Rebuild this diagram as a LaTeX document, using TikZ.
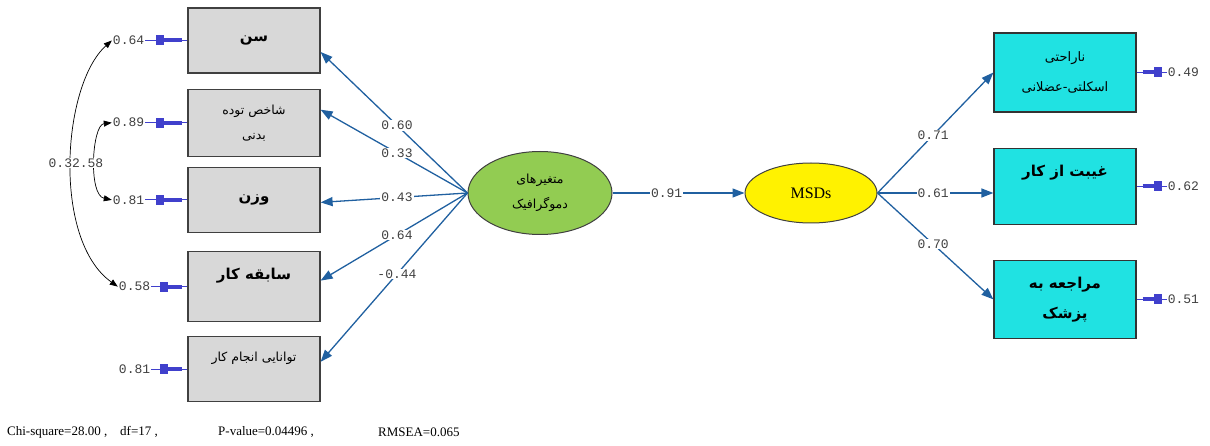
\documentclass[tikz,border=0pt]{standalone}
\usepackage{fontspec}
\setmainfont{Liberation Serif}
\newfontfamily\arabicfont[Script=Arabic]{DejaVu Sans}
\newfontfamily\codefont{Liberation Mono}
\TeXXeTstate=1
\usetikzlibrary{arrows.meta, positioning, calc, shapes.geometric}

\definecolor{boxgray}{RGB}{216,216,216}
\definecolor{boxcyan}{RGB}{32,226,226}
\definecolor{latgreen}{RGB}{146,204,82}
\definecolor{pathblue}{RGB}{32,96,160}
\definecolor{errblue}{RGB}{64,64,204}

\begin{document}
\begin{tikzpicture}[x=1pt, y=-1pt,
    % Styles
    obs box/.style={draw=black!75, line width=1.2pt, fill=boxgray, minimum width=132pt, minimum height=65pt, inner sep=2pt, align=center, font=\arabicfont\bfseries\fontsize{15}{26}\selectfont},
    out box/.style={draw=black!80, line width=1.2pt, fill=boxcyan, minimum width=142pt, minimum height=78pt, inner sep=2pt, align=center, font=\arabicfont\bfseries\fontsize{15}{30}\selectfont},
    plain text/.style={font=\arabicfont\fontsize{12.5}{25}\selectfont},
    latent/.style={ellipse, draw=black!75, line width=1pt, inner sep=0pt, align=center},
    load arrow/.style={draw=pathblue, line width=1.3pt, -{Triangle[length=12pt, width=9pt]}},
    coef/.style={fill=white, inner sep=1pt, pos=0.48, text=black!75, font=\codefont\fontsize{13}{13}\selectfont},
    err label/.style={inner sep=1pt, text=black!75, font=\codefont\fontsize{13}{13}\selectfont},
    err sq/.style={fill=errblue, minimum width=8pt, minimum height=10pt, inner sep=0pt},
    err line/.style={draw=errblue, line width=0.8pt},
    err bar/.style={draw=errblue, line width=4pt},
    cov/.style={draw=black, line width=0.7pt, {Triangle[length=8pt, width=6pt]}-{Triangle[length=8pt, width=6pt]}},
    fit stat/.style={anchor=west, inner sep=0pt, font=\fontsize{13}{15}\selectfont},
]
    \useasboundingbox (0,0) rectangle (1210,446);

    % Indicator boxes on the left, first one anchored
    \node[obs box] (sen) at (254,40.5) {\beginR سن\endR};
    \node[obs box, plain text, minimum height=67pt, below=15pt of sen] (bmi) {\beginR شاخص توده\endR\\\beginR بدنی\endR};
    \node[obs box, below=10pt of bmi] (vazn) {\beginR وزن\endR};
    \node[obs box, minimum height=70pt, below=18pt of vazn] (sabeghe) {\beginR سابقه کار\endR\\\mbox{}};
    \node[obs box, plain text, below=14pt of sabeghe] (tavan) {\beginR توانایی انجام کار\endR\\\mbox{}};

    % Latent variables
    \node[latent, fill=latgreen, minimum width=144pt, minimum height=83pt, font=\arabicfont\fontsize{12.5}{25}\selectfont] (demog) at (540,193) {\beginR متغیرهای\endR\\\beginR دموگرافیک\endR};
    \node[latent, fill=yellow, minimum width=132pt, minimum height=60pt, font=\fontsize{16}{18}\selectfont] (msds) at (811,193) {MSDs};

    % Outcome boxes on the right
    \node[out box, plain text, font=\arabicfont\fontsize{13}{30}\selectfont, minimum height=79pt] (narahati) at (1065,72.5) {\beginR ناراحتی\endR\\\beginR اسکلتی-عضلانی\endR};
    \node[out box, below=35pt of narahati, minimum height=76pt] (gheybat) {\beginR غیبت از کار\endR\\\mbox{}};
    \node[out box, below=35pt of gheybat] (moraje) {\beginR مراجعه به\endR\\\beginR پزشک\endR};

    % Loadings of the demographic factor
    \draw[load arrow] (demog.west) -- node[coef] {0.60} ([yshift=-11.5pt]sen.east);
    \draw[load arrow] (demog.west) -- node[coef] {0.33} ([yshift=13pt]bmi.east);
    \draw[load arrow] (demog.west) -- node[coef] {0.43} ([yshift=-2.5pt]vazn.east);
    \draw[load arrow] (demog.west) -- node[coef] {0.64} ([yshift=6pt]sabeghe.east);
    \draw[load arrow] (demog.west) -- node[coef] {-0.44} ([yshift=7.5pt]tavan.east);

    % Structural path and MSDs loadings
    \draw[load arrow] (demog) -- node[coef, pos=0.41] {0.91} (msds);
    \draw[load arrow] (msds.east) -- node[coef] {0.71} (narahati.west);
    \draw[load arrow] (msds.east) -- node[coef] {0.61} (msds.east -| gheybat.west);
    \draw[load arrow] (msds.east) -- node[coef] {0.70} (moraje.west);

    % Error terms, left column
    \node[err label, left=42pt of sen.west] (e sen) {0.64};
    \node[err sq, left=23pt of sen.west] (q sen) {};
    \draw[err line] (e sen) -- (sen);
    \draw[err bar] (q sen) -- ([xshift=-5pt]sen.west);

    \node[err label, left=42pt of bmi.west] (e bmi) {0.89};
    \node[err sq, left=23pt of bmi.west] (q bmi) {};
    \draw[err line] (e bmi) -- (bmi);
    \draw[err bar] (q bmi) -- ([xshift=-5pt]bmi.west);

    \node[err label, left=42pt of vazn.west] (e vazn) {0.81};
    \node[err sq, left=23pt of vazn.west] (q vazn) {};
    \draw[err line] (e vazn) -- (vazn);
    \draw[err bar] (q vazn) -- ([xshift=-5pt]vazn.west);

    \node[err label, left=36pt of sabeghe.west] (e sabeghe) {0.58};
    \node[err sq, left=19pt of sabeghe.west] (q sabeghe) {};
    \draw[err line] (e sabeghe) -- (sabeghe);
    \draw[err bar] (q sabeghe) -- ([xshift=-5pt]sabeghe.west);

    \node[err label, left=36pt of tavan.west] (e tavan) {0.81};
    \node[err sq, left=19pt of tavan.west] (q tavan) {};
    \draw[err line] (e tavan) -- (tavan);
    \draw[err bar] (q tavan) -- ([xshift=-5pt]tavan.west);

    % Error terms, right column
    \node[err label, right=30pt of narahati.east] (e narahati) {0.49};
    \node[err sq, right=17pt of narahati.east] (q narahati) {};
    \draw[err line] (narahati) -- (e narahati);
    \draw[err bar] ([xshift=6pt]narahati.east) -- (q narahati);

    \node[err label, right=30pt of gheybat.east] (e gheybat) {0.62};
    \node[err sq, right=17pt of gheybat.east] (q gheybat) {};
    \draw[err line] (gheybat) -- (e gheybat);
    \draw[err bar] ([xshift=6pt]gheybat.east) -- (q gheybat);

    \node[err label, right=30pt of moraje.east] (e moraje) {0.51};
    \node[err sq, right=17pt of moraje.east] (q moraje) {};
    \draw[err line] (moraje) -- (e moraje);
    \draw[err bar] ([xshift=6pt]moraje.east) -- (q moraje);

    % Error covariances
    \draw[cov] (e sen.west) .. controls (62,85) and (52,240) .. (e sabeghe.west);
    \draw[cov] (e bmi.west) .. controls (92,125) and (88,195) .. (e vazn.west);
    \node[fill=white, inner sep=1pt, text=black!75, font=\codefont\fontsize{13}{13}\selectfont] (cov lab) at (76,163) {0.32.58};

    % Fit statistics
    \node[fit stat] (chi) at (7,432) {Chi-square=28.00 ,};
    \node[fit stat] (df) at (120,432) {df=17 ,};
    \node[fit stat] (pval) at (218,432) {P-value=0.04496 ,};
    \node[fit stat] (rmsea) at (378,432) {RMSEA=0.065};
\end{tikzpicture}
\end{document}
